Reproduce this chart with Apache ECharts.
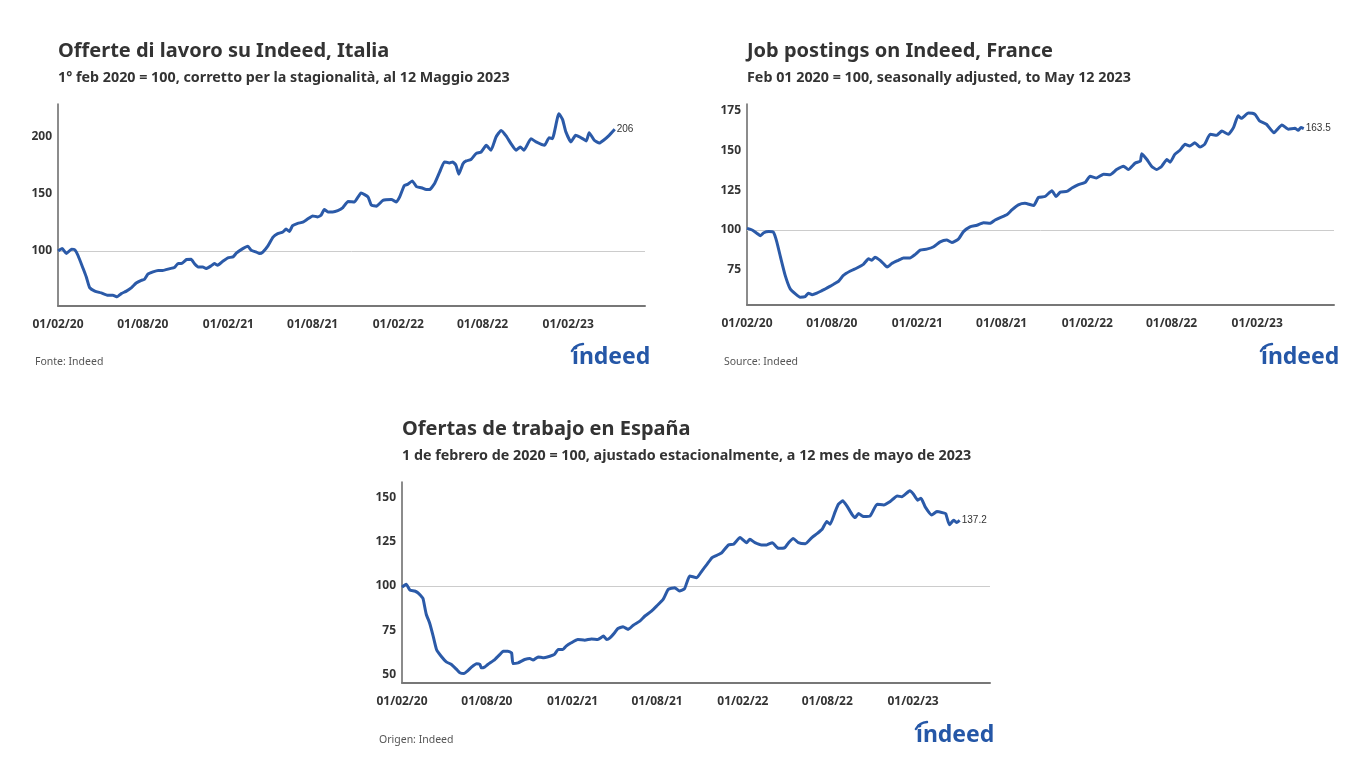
<!DOCTYPE html>
<html><head><meta charset="utf-8">
<script src="https://cdn.jsdelivr.net/npm/echarts@6/dist/echarts.min.js"></script>
<style>html,body{margin:0;padding:0;background:#fff}#c{width:1366px;height:768px}</style>
</head><body><div id="c"></div>
<script>
// ---------- DATA ----------
const xTickDates = ['2020-02-01','2020-08-01','2021-02-01','2021-08-01','2022-02-01','2022-08-01','2023-02-01'];
const xTickLabels = ['01/02/20','01/08/20','01/02/21','01/08/21','01/02/22','01/08/22','01/02/23'];
const xMinDate = '2020-02-01';
const xMaxDate = '2023-07-16';

const itTitle = 'Offerte di lavoro su Indeed, Italia';
const itSubtitle = '1° feb 2020 = 100, corretto per la stagionalità, al 12 Maggio 2023';
const itSource = 'Fonte: Indeed';
const itYTicks = [100, 150, 200];
const itDates = ['2020-02-01','2020-02-10','2020-02-19','2020-03-01','2020-03-08','2020-03-15','2020-03-26','2020-04-02','2020-04-09','2020-04-20','2020-05-04','2020-05-18','2020-05-29','2020-06-07','2020-06-16','2020-06-27','2020-07-08','2020-07-18','2020-07-29','2020-08-05','2020-08-12','2020-08-23','2020-09-03','2020-09-13','2020-09-28','2020-10-08','2020-10-16','2020-10-23','2020-11-03','2020-11-13','2020-11-20','2020-11-28','2020-12-08','2020-12-15','2020-12-26','2021-01-02','2021-01-09','2021-01-20','2021-01-31','2021-02-11','2021-02-18','2021-03-04','2021-03-15','2021-03-22','2021-04-02','2021-04-09','2021-04-16','2021-04-27','2021-05-08','2021-05-18','2021-05-29','2021-06-05','2021-06-12','2021-06-19','2021-06-30','2021-07-11','2021-07-22','2021-08-01','2021-08-12','2021-08-19','2021-08-26','2021-09-03','2021-09-13','2021-09-24','2021-10-05','2021-10-16','2021-10-30','2021-11-13','2021-11-28','2021-12-05','2021-12-16','2021-12-30','2022-01-17','2022-01-28','2022-02-04','2022-02-14','2022-02-21','2022-03-03','2022-03-12','2022-03-23','2022-04-02','2022-04-09','2022-04-20','2022-05-01','2022-05-11','2022-05-22','2022-05-29','2022-06-05','2022-06-11','2022-06-20','2022-06-27','2022-07-07','2022-07-18','2022-07-29','2022-08-09','2022-08-19','2022-08-30','2022-09-10','2022-09-21','2022-10-01','2022-10-12','2022-10-21','2022-10-29','2022-11-13','2022-11-24','2022-12-12','2022-12-22','2022-12-29','2023-01-12','2023-01-20','2023-01-27','2023-02-07','2023-02-17','2023-03-04','2023-03-12','2023-03-18','2023-03-29','2023-04-09','2023-04-18','2023-04-30','2023-05-12'];
const itValues = [100,102,97.7,101.5,101,96,84.6,77,68,65,63.4,61.4,61.4,60,62.8,65,68,72,74.4,75.3,79.7,81.7,83,83,84.6,85.5,89,89,92.5,92.7,89,86,86,84.6,87,89,87.5,91,94,94.8,98,102,104,100.6,99,97.7,99,104.4,112,115,116.5,119,117,122,124,125,128,130.5,129.6,131,136,134,134,135,137.7,143,142.7,150.5,147,140,139,144,144.7,142.7,147,157,158,161,156,155,153.4,153.4,158.7,168.8,177.5,176.7,177.5,174.6,166.8,176,178.4,179.6,184.8,186.2,192,187.7,199.3,205,200,193.5,187.7,190.6,187.7,197.8,195,192,198.7,197.8,219.6,214.4,203.7,195,200.7,197.8,195.8,203,196.4,194,196.4,200.7,206];

const frTitle = 'Job postings on Indeed, France';
const frSubtitle = 'Feb 01 2020 = 100, seasonally adjusted, to May 12 2023';
const frSource = 'Source: Indeed';
const frYTicks = [75, 100, 125, 150, 175];
const frDates = ['2020-02-01','2020-02-12','2020-02-22','2020-03-01','2020-03-08','2020-03-19','2020-03-29','2020-04-05','2020-04-13','2020-04-23','2020-05-04','2020-05-15','2020-05-25','2020-06-05','2020-06-12','2020-06-20','2020-06-30','2020-07-11','2020-07-18','2020-07-29','2020-08-05','2020-08-16','2020-08-26','2020-09-10','2020-09-24','2020-10-08','2020-10-19','2020-10-26','2020-11-02','2020-11-13','2020-11-20','2020-11-28','2020-12-08','2020-12-22','2021-01-02','2021-01-16','2021-01-27','2021-02-07','2021-02-21','2021-03-08','2021-03-22','2021-04-05','2021-04-16','2021-04-30','2021-05-11','2021-05-25','2021-06-09','2021-06-23','2021-07-07','2021-07-18','2021-07-29','2021-08-12','2021-08-23','2021-09-06','2021-09-20','2021-10-09','2021-10-19','2021-11-02','2021-11-17','2021-11-26','2021-12-05','2021-12-19','2021-12-30','2022-01-13','2022-01-28','2022-02-07','2022-02-21','2022-03-08','2022-03-22','2022-04-05','2022-04-20','2022-04-30','2022-05-15','2022-05-26','2022-05-29','2022-06-09','2022-06-19','2022-06-30','2022-07-11','2022-07-22','2022-07-29','2022-08-08','2022-08-19','2022-08-30','2022-09-09','2022-09-20','2022-10-01','2022-10-11','2022-10-23','2022-11-06','2022-11-17','2022-12-01','2022-12-12','2022-12-22','2022-12-29','2023-01-13','2023-01-27','2023-02-06','2023-02-21','2023-03-09','2023-03-26','2023-04-09','2023-04-23','2023-04-30','2023-05-06','2023-05-12'];
const frValues = [101,100,98,96.4,98.3,99,98.5,92.6,83,71.6,63,60,57.9,58.3,60.4,59.4,60.4,62,63,64.8,66,68,71.6,74.3,76.2,78.5,82,81,83,81,79,76.8,79,81,82.5,82.5,84.6,87.4,88,89.5,92.6,93.7,92.2,94.3,99,102,103,104.6,104.2,106.3,107.8,109.5,112.6,115.8,116.8,115.4,120.4,121,124.6,121,123.8,124.2,126.3,128.4,130,133.7,132.6,135,134.7,137.9,140,137.9,142,143.2,147.8,144.2,140,137.9,140,144.2,142.5,147.4,150,153.7,152.6,154.7,152,153.7,160,159.4,162,160,164.2,171.6,170,173.3,172.6,168.4,166.3,161,165.9,163.2,163.8,162.5,164.2,163.5];

const esTitle = 'Ofertas de trabajo en España';
const esSubtitle = '1 de febrero de 2020 = 100, ajustado estacionalmente, a 12 mes de mayo de 2023';
const esSource = 'Origen: Indeed';
const esYTicks = [50, 75, 100, 125, 150];
const esDates = ['2020-02-01','2020-02-10','2020-02-18','2020-02-28','2020-03-06','2020-03-13','2020-03-17','2020-03-24','2020-03-31','2020-04-07','2020-04-15','2020-04-25','2020-05-06','2020-05-17','2020-05-28','2020-06-04','2020-06-13','2020-06-20','2020-06-29','2020-07-10','2020-07-17','2020-07-20','2020-07-27','2020-08-03','2020-08-18','2020-08-29','2020-09-05','2020-09-15','2020-09-23','2020-09-26','2020-10-07','2020-10-14','2020-10-21','2020-11-01','2020-11-08','2020-11-19','2020-11-29','2020-12-14','2020-12-24','2021-01-01','2021-01-11','2021-01-18','2021-01-29','2021-02-12','2021-02-27','2021-03-13','2021-03-27','2021-04-08','2021-04-15','2021-04-22','2021-05-02','2021-05-09','2021-05-20','2021-05-31','2021-06-11','2021-06-25','2021-07-06','2021-07-20','2021-07-31','2021-08-14','2021-08-25','2021-09-08','2021-09-18','2021-09-29','2021-10-10','2021-10-25','2021-11-05','2021-11-16','2021-11-27','2021-12-07','2021-12-18','2022-01-01','2022-01-12','2022-01-26','2022-02-09','2022-02-16','2022-02-27','2022-03-13','2022-03-24','2022-04-05','2022-04-18','2022-05-02','2022-05-10','2022-05-20','2022-05-31','2022-06-15','2022-06-29','2022-07-10','2022-07-21','2022-07-31','2022-08-07','2022-08-18','2022-08-25','2022-09-03','2022-09-12','2022-09-23','2022-09-30','2022-10-07','2022-10-18','2022-11-01','2022-11-16','2022-11-30','2022-12-14','2022-12-29','2023-01-08','2023-01-25','2023-02-02','2023-02-11','2023-02-18','2023-02-27','2023-03-13','2023-03-24','2023-04-07','2023-04-12','2023-04-20','2023-04-29','2023-05-06','2023-05-12'];
const esValues = [99.4,101,97.7,97.2,96.2,94.3,93,84,79.2,72.5,64,60.2,57,55.5,52.7,50.8,50.4,51.7,54,55.9,55.5,53.6,54,55.5,58.3,61.2,63,63,62.1,56,56.4,57.4,58.3,58.9,58,59.8,59.3,60.2,61.2,64,64,65.9,67.8,69.7,69.3,70,69.7,71.6,69.7,70.6,73.5,75.9,76.9,75.4,77.8,80.1,83,85.8,88.6,92.4,98.1,99,97.2,98.5,105.7,104.7,108.5,112.3,116.1,117.4,119,123.3,123.7,127.5,124.6,126.5,124.6,123.3,123.3,124.6,121.4,121.8,124.6,127,124.6,124,127.5,129.7,132.2,136.6,135,142.2,146.4,148.3,145.5,140.7,138.8,141.1,139.4,139.8,146.4,146,147.9,151.1,150.6,154,152.1,148.7,149.8,144.9,140.3,142.2,141.5,141.1,134.7,137.3,136,137.2];

// ---------- RENDER ----------
const FONT = '"Noto Sans", "Open Sans", sans-serif';
const LINE = '#2b5aa8';
const LOGO = '#2557a7';
const TEXT = '#333333';
const toTs = s => { const p = s.split('-').map(Number); return new Date(p[0], p[1] - 1, p[2]).getTime(); };
const xTickTimes = xTickDates.map(toTs);
const fmtX = v => { const i = xTickTimes.indexOf(v); return i >= 0 ? xTickLabels[i] : ''; };
const zip = (d, v) => d.slice(0, Math.min(d.length, v.length)).map((x, i) => [toTs(x), v[i]]);

const panels = [
  {title: itTitle, sub: itSubtitle, src: itSource, ticks: itYTicks, dates: itDates, vals: itValues, min: 52, max: 228, L: 58, T: 104, W: 587, H: 202},
  {title: frTitle, sub: frSubtitle, src: frSource, ticks: frYTicks, dates: frDates, vals: frValues, min: 53, max: 179, L: 747, T: 104, W: 587, H: 201},
  {title: esTitle, sub: esSubtitle, src: esSource, ticks: esYTicks, dates: esDates, vals: esValues, min: 45, max: 159, L: 402, T: 482, W: 588, H: 201}
];

const option = {
  backgroundColor: '#ffffff',
  animation: false,
  title: [], grid: [], xAxis: [], yAxis: [], series: [], graphic: []
};

panels.forEach((p, i) => {
  option.title.push({text: p.title, left: p.L, top: p.T - 63, padding: 0,
    textStyle: {fontFamily: FONT, fontSize: 20, fontWeight: 'bold', color: TEXT}});
  option.title.push({text: p.sub, left: p.L, top: p.T - 33, padding: 0,
    textStyle: {fontFamily: FONT, fontSize: 14.3, fontWeight: 'bold', color: TEXT}});
  option.grid.push({left: p.L, top: p.T, width: p.W, height: p.H, containLabel: false});
  option.xAxis.push({type: 'value', gridIndex: i, min: toTs(xMinDate), max: toTs(xMaxDate),
    axisLine: {onZero: false, lineStyle: {color: '#777', width: 2}}, axisTick: {show: false}, splitLine: {show: false},
    axisLabel: {customValues: xTickTimes, formatter: fmtX, color: TEXT, fontWeight: 'bold', fontSize: 12, fontFamily: FONT, margin: 13, hideOverlap: false}});
  option.yAxis.push({type: 'value', gridIndex: i, min: p.min, max: p.max,
    axisLine: {show: true, lineStyle: {color: '#666', width: 1.5}}, axisTick: {show: false}, splitLine: {show: false},
    axisLabel: {customValues: p.ticks, color: TEXT, fontWeight: 'bold', fontSize: 12, fontFamily: FONT, margin: 6}});
  option.series.push({type: 'line', xAxisIndex: i, yAxisIndex: i, data: zip(p.dates, p.vals),
    showSymbol: false, symbol: 'none', smooth: 0.15, lineStyle: {color: LINE, width: 3}, itemStyle: {color: LINE},
    emphasis: {disabled: true},
    endLabel: {show: true, formatter: q => String(q.value[1]), color: TEXT, fontSize: 10, fontFamily: '"Liberation Sans", Arial, sans-serif', distance: 2},
    markLine: {silent: true, symbol: 'none', label: {show: false}, lineStyle: {color: '#cccccc', width: 1, type: 'solid'}, data: [{yAxis: 100}], z: 1}
  });
  option.graphic.push({type: 'text', x: p.L - 23, y: p.T + 258.5,
    style: {text: p.src, font: '10.5px ' + FONT, fill: '#555', textAlign: 'left', verticalAlign: 'middle', textVerticalAlign: 'middle'}});
  const lx = p.L + 514, ly = p.T + 250.5;
  option.graphic.push({type: 'text', x: lx, y: ly + 2.5,
    style: {text: 'indeed', font: 'bold 23px ' + FONT, fill: LOGO, textAlign: 'left', verticalAlign: 'middle', textVerticalAlign: 'middle'}});
  option.graphic.push({type: 'arc', x: 0, y: 0,
    shape: {cx: lx + 12, cy: ly + 3.5, r: 14, startAngle: -Math.PI * 150 / 180, endAngle: -Math.PI * 94 / 180},
    style: {stroke: LOGO, lineWidth: 2.4, fill: null, lineCap: 'round'}});
});

const chart = echarts.init(document.getElementById('c'), null, {renderer: 'canvas'});
chart.setOption(option);
</script></body></html>
